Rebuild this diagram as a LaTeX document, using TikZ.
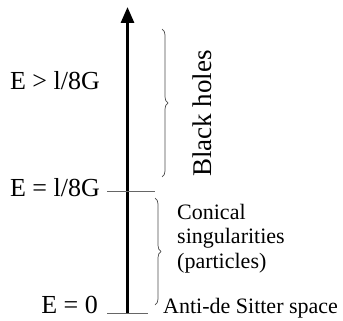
\documentclass[tikz,border=0pt]{standalone}
\usepackage{fontspec}
\setmainfont{Liberation Serif}
\usetikzlibrary{decorations.pathreplacing,arrows.meta}
\begin{document}
\begin{tikzpicture}[x=1pt,y=-1pt,
  big/.style={font=\fontsize{26}{28}\selectfont, inner sep=0pt},
  small/.style={font=\fontsize{22}{24.5}\selectfont, inner sep=0pt},
  tickline/.style={draw=black!60, line width=1pt},
  bracestyle/.style={draw=black!70, line width=0.7pt, decorate,
    decoration={brace, amplitude=6pt}}]
\useasboundingbox (0,0) rectangle (343,321);
% axis
\coordinate (bot) at (127.5,313);
\coordinate (top) at (127.5,7);
\draw[line width=3pt, -{Triangle[length=16pt,width=13pt]}] (bot) -- (top);
% ticks
\coordinate (t1a) at (107,191);
\coordinate (t1b) at (155,191);
\coordinate (t0a) at (107,313);
\coordinate (t0b) at (148,313);
\draw[tickline] (t1a) -- (t1b);
\draw[tickline] (t0a) -- (t0b);
% braces
\coordinate (b1a) at (162,29);
\coordinate (b1b) at (162,177);
\coordinate (b2a) at (155,198);
\coordinate (b2b) at (155,305);
\draw[bracestyle] (b1a) -- (b1b);
\draw[bracestyle] (b2a) -- (b2b);
% labels
\node[big, anchor=base east] (egt) at (100,90) {E > l/8G};
\node[big, anchor=base east] (eeq) at (100,196) {E = l/8G};
\node[big, anchor=base east] (ezero) at (98,313) {E = 0};
\node[big, font=\fontsize{27}{29}\selectfont, rotate=90, anchor=base] (bh) at (211,113.5) {Black holes};
\node[small, anchor=base west, align=left] (con) at (177,268) {Conical\\singularities\\(particles)};
\node[small, anchor=base west] (ads) at (163,313) {Anti-de Sitter space};
\end{tikzpicture}
\end{document}
